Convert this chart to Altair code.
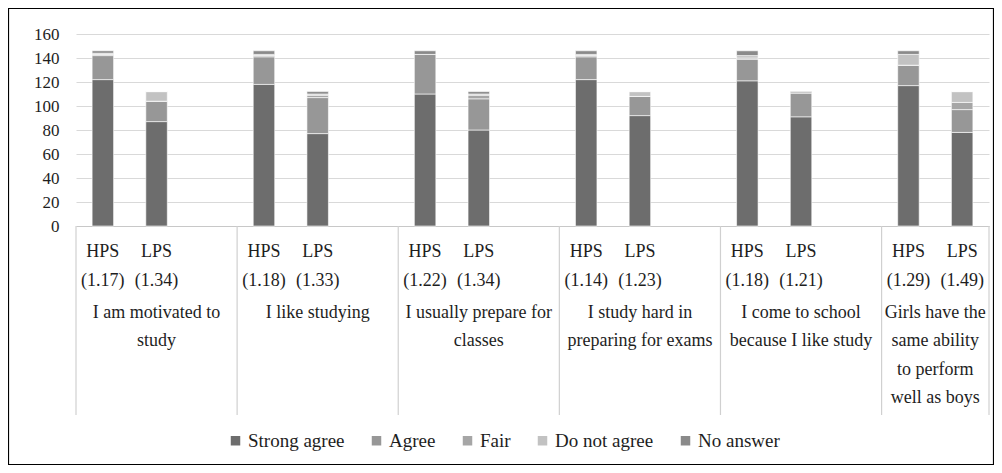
import altair as alt
import pandas as pd

# ---------------- data ----------------
category_lines = [
    ["I am motivated to", "study"],
    ["I like studying"],
    ["I usually prepare for", "classes"],
    ["I study hard in", "preparing for exams"],
    ["I come to school", "because I like study"],
    ["Girls have the", "same ability", "to perform", "well as boys"],
]
schools = ["HPS", "LPS"]
hps_means = [1.17, 1.18, 1.22, 1.14, 1.18, 1.29]
lps_means = [1.34, 1.33, 1.34, 1.23, 1.21, 1.49]

responses = ["Strong agree", "Agree", "Fair", "Do not agree", "No answer"]
colors = ["#6d6d6d", "#979797", "#a6a6a6", "#c2c2c2", "#8a8a8a"]

hps_strong = [122, 118, 110, 122, 121, 117]
hps_agree = [20, 23, 33, 19, 18, 17]
hps_fair = [1, 1, 0, 1, 1, 0]
hps_dna = [1, 1, 0, 1, 2, 9]
hps_na = [2, 3, 3, 3, 4, 3]

lps_strong = [87, 77, 80, 92, 91, 78]
lps_agree = [17, 30, 26, 16, 20, 19]
lps_fair = [0, 2, 3, 0, 0, 6]
lps_dna = [8, 1, 1, 4, 0, 9]
lps_na = [0, 2, 2, 0, 1, 0]

y_ticks = [0, 20, 40, 60, 80, 100, 120, 140, 160]

# ---------------- tables ----------------
hps = [hps_strong, hps_agree, hps_fair, hps_dna, hps_na]
lps = [lps_strong, lps_agree, lps_fair, lps_dna, lps_na]
n_groups = len(category_lines)
n_slots = 3 * n_groups - 1
slots = list(range(n_slots))

rows, slot_rows = [], []
for g in range(n_groups):
    for s, (school, series, means) in enumerate(
            [("HPS", hps, hps_means), ("LPS", lps, lps_means)]):
        slot = 3 * g + s
        for r, resp in enumerate(responses):
            rows.append({"slot": slot, "response": resp, "ord": r,
                         "count": series[r][g]})
        slot_rows.append({"slot": slot, "label": f"{school}\n({means[g]:.2f})"})
bars_df = pd.DataFrame(rows)
slot_df = pd.DataFrame(slot_rows)

grp_df = pd.DataFrame([{"slot": 3 * g + 1, "label": "\n".join(category_lines[g])}
                       for g in range(n_groups - 1)])
last_df = pd.DataFrame([{"slot": 3 * (n_groups - 1),
                         "label": "\n".join(category_lines[-1])}])
sep_df = pd.DataFrame([{"slot": 3 * g} for g in range(n_groups)])
end_df = pd.DataFrame([{"slot": n_slots - 1}])
frame_df = pd.DataFrame([{"k": 0}])

FONT = "Liberation Serif"
TXT = "#1e1e1e"

xscale = alt.Scale(domain=slots, paddingInner=0, paddingOuter=0)

bars = alt.Chart(bars_df).mark_bar(width={"band": 0.4}, stroke="white",
                                   strokeWidth=0.6).encode(
    x=alt.X("slot:O", scale=xscale,
            axis=alt.Axis(labels=False, ticks=False, title=None, grid=False,
                          domain=True, domainColor="#c8c8c8", domainWidth=1.2)),
    y=alt.Y("sum(count):Q", stack="zero",
            scale=alt.Scale(domain=[0, 160], nice=False),
            axis=alt.Axis(values=y_ticks, title=None, domain=False, ticks=False,
                          tickSize=0, labelPadding=17, labelFontSize=17,
                          labelFont=FONT, labelColor=TXT, gridColor="#d9d9d9",
                          gridWidth=1.2)),
    color=alt.Color("response:N",
                    scale=alt.Scale(domain=responses, range=colors),
                    legend=alt.Legend(orient="none", legendX=150, legendY=397,
                                      direction="horizontal", columns=5,
                                      title=None, symbolType="square",
                                      symbolSize=90, symbolStrokeWidth=0,
                                      labelFontSize=19, labelFont=FONT,
                                      labelColor=TXT, labelOffset=3,
                                      columnPadding=22)),
    order=alt.Order("ord:Q", sort="ascending"),
)

slot_text = alt.Chart(slot_df).mark_text(
    lineBreak="\n", lineHeight=29, baseline="alphabetic", align="center",
    font=FONT, fontSize=18, color=TXT).encode(
    x=alt.X("slot:O", scale=xscale), y=alt.value(223), text="label:N")

grp_text = alt.Chart(grp_df).mark_text(
    lineBreak="\n", lineHeight=28.5, baseline="alphabetic", align="center",
    font=FONT, fontSize=18, color=TXT).encode(
    x=alt.X("slot:O", scale=xscale, bandPosition=0.5), y=alt.value(283.5),
    text="label:N")

last_text = alt.Chart(last_df).mark_text(
    lineBreak="\n", lineHeight=28.5, baseline="alphabetic", align="center",
    font=FONT, fontSize=18, color=TXT).encode(
    x=alt.X("slot:O", scale=xscale, bandPosition=1), y=alt.value(283.5),
    text="label:N")

seps = alt.Chart(sep_df).mark_rule(color="#d0d0d0", strokeWidth=1.2).encode(
    x=alt.X("slot:O", scale=xscale, bandPosition=0),
    y=alt.value(192), y2=alt.value(381))
seps_end = alt.Chart(end_df).mark_rule(color="#d0d0d0", strokeWidth=1.2).encode(
    x=alt.X("slot:O", scale=xscale, bandPosition=1),
    y=alt.value(192), y2=alt.value(381))

frame = alt.Chart(frame_df).mark_rect(filled=False, stroke="#000000",
                                      strokeWidth=1.2).encode(
    x=alt.value(-67.5), x2=alt.value(917.5),
    y=alt.value(-25.5), y2=alt.value(430.5))

chart = alt.layer(seps, seps_end, bars, slot_text, grp_text, last_text,
                  frame).properties(
    width=913, height=192,
    autosize=alt.AutoSizeParams(type="none"),
    padding={"left": 68, "top": 26, "right": 5, "bottom": 239},
).configure(
    font=FONT, background="white",
    view=alt.ViewConfig(stroke=None),
    axis=alt.AxisConfig(labelFont=FONT),
    legend=alt.LegendConfig(labelFont=FONT),
    text=alt.MarkConfig(font=FONT),
)

chart.save("out.html", embed_options={"renderer": "svg", "actions": False})
